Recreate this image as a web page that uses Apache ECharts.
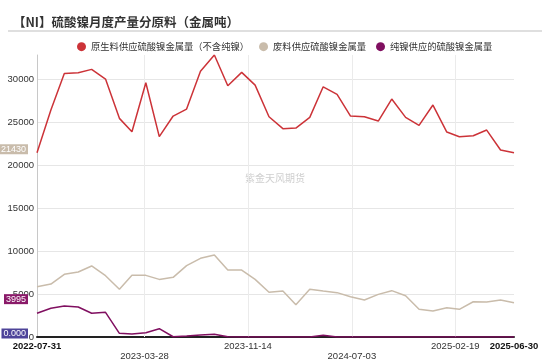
<!DOCTYPE html>
<html><head><meta charset="utf-8">
<script src="https://cdn.jsdelivr.net/npm/echarts@6/dist/echarts.min.js"></script>
<style>html,body{margin:0;padding:0;background:#fff}#c{width:550px;height:361px}</style>
</head><body><div id="c"></div>
<script>
const titleText = '【NI】硫酸镍月度产量分原料（金属吨）';
const watermarkText = '紫金天风期货';
const seriesNames = ['原生料供应硫酸镍金属量（不含纯镍）', '废料供应硫酸镍金属量', '纯镍供应的硫酸镍金属量'];
const dates = ['2022-07-31','2022-08-31','2022-09-30','2022-10-31','2022-11-30','2022-12-31',
  '2023-01-31','2023-02-28','2023-03-31','2023-04-30','2023-05-31','2023-06-30',
  '2023-07-31','2023-08-31','2023-09-30','2023-10-31','2023-11-30','2023-12-31',
  '2024-01-31','2024-02-29','2024-03-31','2024-04-30','2024-05-31','2024-06-30',
  '2024-07-31','2024-08-31','2024-09-30','2024-10-31','2024-11-30','2024-12-31',
  '2025-01-31','2025-02-28','2025-03-31','2025-04-30','2025-05-31','2025-06-30'];
const primaryNi = [21430, 26400, 30660, 30740, 31130, 30000, 25430, 23880, 29570, 23300, 25700, 26510,
  30900, 32800, 29230, 30780, 29300, 25620, 24230, 24300, 25550, 29100, 28220, 25700,
  25620, 25120, 27680, 25550, 24620, 26980, 23840, 23300, 23410, 24070, 21750, 21430];
const scrapNi = [5850, 6160, 7290, 7560, 8260, 7130, 5550, 7170, 7170, 6700, 6940, 8300,
  9150, 9540, 7790, 7790, 6700, 5200, 5350, 3760, 5550, 5350, 5160, 4690,
  4300, 4960, 5390, 4800, 3220, 3030, 3410, 3220, 4100, 4070, 4300, 3995];
const pureNi = [2760, 3340, 3600, 3490, 2760, 2870, 430, 350, 500, 970, 30, 120,
  220, 310, 30, 0, 0, 0, 0, 0, 0, 200, 0, 0,
  0, 0, 0, 0, 0, 0, 0, 0, 0, 0, 0, 0];
const xTickLabels = ['2022-07-31','2023-03-28','2023-11-14','2024-07-03','2025-02-19','2025-06-30'];
const seriesColors = ['#cc3338', '#c9bcab', '#800f60'];
const tagColors = ['#c9bcab', '#8a1a69', '#4e4499'];
const tagDecimals = [0, 0, 3];

function ts(s) { const p = s.split('-').map(Number); return new Date(p[0], p[1] - 1, p[2]).getTime(); }
const xLabelTs = xTickLabels.map(ts);
const allValues = [primaryNi, scrapNi, pureNi];
const FONT = '"Liberation Sans", "Noto Sans CJK SC", sans-serif';

const lineSeries = allValues.map(function (vals, k) {
  const last = vals[vals.length - 1];
  return {
    name: seriesNames[k], type: 'line', symbol: 'none', smooth: false,
    z: 3 + k,
    color: seriesColors[k],
    lineStyle: { width: 1.5, color: seriesColors[k] },
    data: dates.map(function (d, i) { return [ts(d), vals[i]]; }),
    markPoint: {
      silent: true, symbol: 'rect', symbolSize: 0, animation: false, z: 10,
      data: [{ coord: [ts(dates[0]), last], value: last }],
      label: {
        show: true, position: 'left', distance: 9, offset: [0, -3.5],
        formatter: last.toFixed(tagDecimals[k]),
        color: '#fff', backgroundColor: tagColors[k], padding: [1, 2, 0, 2],
        fontSize: 9, fontFamily: FONT
      }
    }
  };
});
// vertical grid lines at the inner date ticks
lineSeries.unshift({
  name: 'grid', type: 'line', data: [], z: 1, silent: true,
  markLine: {
    silent: true, symbol: 'none', animation: false, z: 1,
    label: { show: false },
    lineStyle: { color: '#ebebeb', width: 1, type: 'solid' },
    data: xLabelTs.slice(1, -1).map(function (t) { return { xAxis: t }; })
  }
});

const chart = echarts.init(document.getElementById('c'));
chart.setOption({
  animation: false,
  textStyle: { fontFamily: FONT },
  title: {
    text: titleText, left: 8, top: 11,
    textStyle: { fontSize: 12.5, fontWeight: 'bold', color: '#333', fontFamily: '"Noto Sans CJK SC", sans-serif' }
  },
  graphic: [
    { type: 'line', shape: { x1: 8, y1: 31, x2: 542, y2: 31 }, style: { stroke: '#d5d5d5', lineWidth: 1.5 }, silent: true },
    { type: 'text', left: 245, top: 173, style: { text: watermarkText, fill: '#cfcfcf', font: '10px "Noto Sans CJK SC"' }, silent: true }
  ],
  legend: {
    top: 37, left: 72, icon: 'circle', itemWidth: 9, itemHeight: 9, itemGap: 10,
    textStyle: { fontSize: 9.3, color: '#333', fontFamily: '"Noto Sans CJK SC", sans-serif' },
    data: seriesNames
  },
  grid: { left: 37, right: 36, top: 55, bottom: 24, containLabel: false },
  xAxis: {
    type: 'value',
    min: ts(dates[0]), max: ts(dates[dates.length - 1]),
    axisLine: { show: true, lineStyle: { color: '#222', width: 2 } },
    axisTick: { show: false },
    splitLine: { show: false },
    axisLabel: {
      customValues: xLabelTs,
      margin: 4, fontSize: 9.5, color: '#333', lineHeight: 10,
      hideOverlap: false,
      formatter: function (v) {
        let i = 0, best = Infinity;
        xLabelTs.forEach(function (t, j) { const d = Math.abs(t - v); if (d < best) { best = d; i = j; } });
        const s = xTickLabels[i];
        if (i === 0 || i === xTickLabels.length - 1) return '{b|' + s + '}';
        if (i % 2 === 1) return '\n' + s;
        return s;
      },
      rich: { b: { fontWeight: 'bold', fontSize: 9.5, color: '#111' } }
    }
  },
  yAxis: {
    type: 'value', min: 0, max: 'dataMax', interval: 5000,
    axisLine: { show: true, lineStyle: { color: '#c8c8c8', width: 1 } },
    axisTick: { show: false },
    splitLine: { show: true, showMaxLine: false, lineStyle: { color: '#e6e6e6', width: 1 } },
    axisLabel: { margin: 3, fontSize: 9.5, color: '#333', showMaxLabel: false,
      formatter: function (v) { return String(v); } }
  },
  series: lineSeries
});
</script></body></html>
